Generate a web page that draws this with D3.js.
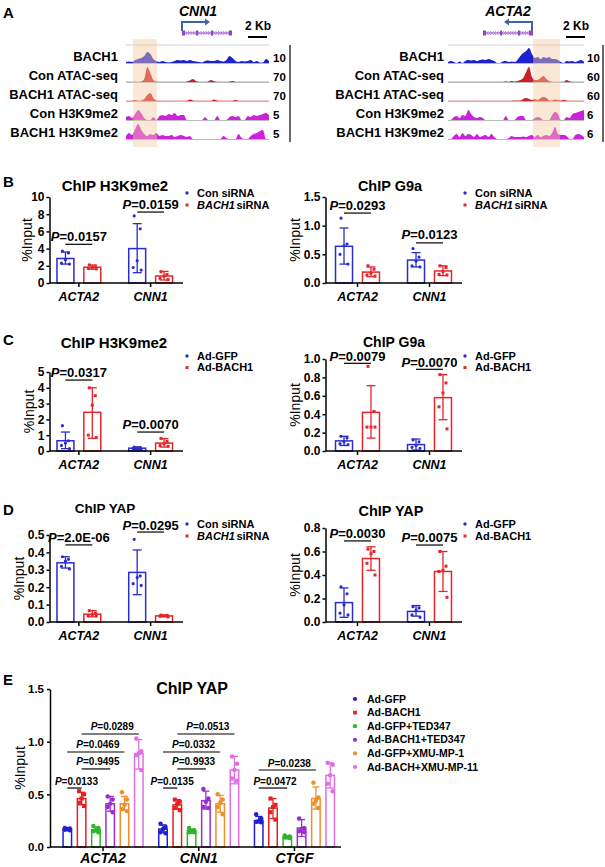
<!DOCTYPE html>
<html lang="en">
  <head>
    <meta charset="UTF-8" />
    <title>BACH1 ChIP figure</title>
    <script src="https://cdn.jsdelivr.net/npm/d3@7"></script>
    <style>
      body { margin: 0; background: #fff; }
      svg { display: block; }
    </style>
  </head>
  <body>
    <div id="chart"></div>
    <script>
      const FONT = "'Liberation Sans', Arial, Helvetica, sans-serif";

      // ---------- panel A: genome browser tracks ----------
      const trackNames = ["BACH1", "Con ATAC-seq", "BACH1 ATAC-seq", "Con H3K9me2", "BACH1 H3K9me2"];
      const trackColors = ["#1d22cc", "#cf1f26", "#cf1f26", "#cc22dd", "#cc22dd"];
      const cnn1Scale = [10, 70, 70, 5, 5];
      const acta2Scale = [10, 60, 60, 6, 6];

      const cnn1Bach1 = [1, 1.5, 1, 3, 4, 5, 7, 11, 9, 4, 2, 1, 2, 1, 0.5, 1,
        2, 3, 2.5, 3, 2, 3, 2, 1.5, 1, 0.5, 2, 2.5, 2, 2, 3, 2,
        1.5, 3, 7, 5, 2, 1, 2, 1.5, 2, 3, 1, 2, 0.5, 0.5, 4, 2];
      const cnn1ConAtac = [0.3, 0.3, 0.3, 0.6, 0.3, 0.6, 3, 15, 9, 2, 0.5, 0.3, 0.3, 0.3, 0.3, 0.3,
        0.3, 0.3, 0.3, 0.3, 0.6, 1.5, 3, 1, 0.3, 0.3, 0.3, 0.6, 2, 0.8, 0.3, 0.3,
        0.3, 0.3, 0.6, 1, 0.3, 0.3, 0.3, 0.3, 0.3, 0.3, 0.3, 0.3, 0.3, 0.3, 0.3, 0.3];
      const cnn1BachAtac = [0.3, 0.3, 0.3, 1, 0.3, 0.5, 2, 6, 8, 3, 0.5, 0.3, 0.3, 0.3, 0.3, 0.3,
        0.3, 0.3, 0.3, 0.3, 0.3, 1.5, 0.6, 0.3, 0.3, 0.3, 0.3, 0.3, 0.3, 1.5, 0.5, 0.3,
        0.3, 0.3, 0.3, 0.3, 1, 0.3, 0.3, 0.3, 0.3, 0.3, 0.3, 0.3, 0.3, 0.3, 0.3, 0.3];
      const cnn1ConK9 = [3, 4, 2, 6, 10, 7, 2, 0, 0, 3, 0, 4, 5, 4, 6, 5,
        7, 4, 5, 5, 0, 0, 0, 0, 0, 0, 3, 0, 0, 0, 4, 0,
        0, 0, 3, 4, 3, 4, 0, 0, 4, 3, 5, 4, 5, 6, 7, 5];
      const cnn1BachK9 = [3, 6, 4, 10, 15, 9, 5, 3, 5, 4, 6, 3, 4, 3, 3, 4,
        2, 3, 4, 3, 2, 3, 0, 0, 0, 0, 0, 0, 0, 0, 0, 0,
        3, 1, 0, 0, 0, 5, 1, 0, 0, 3, 5, 6, 8, 9, 0, 0];

      const acta2Bach1 = [1, 2, 1, 0, 1.5, 0, 2, 3, 2.5, 3, 2, 3, 3.5, 3, 4, 3,
        2, 0, 0, 1.5, 2, 1, 1.5, 1, 3, 7, 10, 12, 15, 9, 5, 6,
        4, 6, 5, 6, 4, 4, 3, 1, 0, 2, 1.5, 2, 1, 2, 3, 1];
      const acta2ConAtac = [0.3, 0.3, 0.3, 0.3, 0.3, 0.3, 0.3, 0.3, 0.3, 0.3, 0.3, 0.3, 0.3, 0.3, 0.3, 0.3,
        0.3, 0.3, 0.3, 0.3, 0.8, 0.3, 1, 0.5, 1, 2, 4, 10, 15, 5, 2, 2,
        4, 6, 3, 1, 0.3, 0.3, 0.3, 0.3, 0.3, 2, 0.8, 0.3, 0.3, 0.3, 0.3, 0.3];
      const acta2BachAtac = [0.3, 0.3, 0.3, 0.3, 0.3, 0.3, 0.3, 0.3, 0.3, 0.3, 0.3, 0.3, 0.3, 0.3, 0.3, 0.3,
        0.3, 0.3, 0.3, 0.3, 0.3, 0.3, 0.3, 0.5, 0.5, 0.5, 2, 3, 2, 1, 2, 1,
        3, 4, 3, 0.6, 0.6, 1.5, 1, 0.5, 1, 0.6, 0.3, 0.3, 0.3, 0.3, 0.3, 0.3];
      const acta2ConK9 = [0, 0, 3, 4, 2, 5, 4, 10, 6, 3, 2, 3, 2, 0, 0, 0,
        0, 0, 0, 0, 4, 0, 0, 0, 3, 4, 4, 0, 0, 0, 2, 3,
        2, 0, 0, 0, 5, 8, 6, 0, 0, 3, 2, 6, 7, 8, 9, 10];
      const acta2BachK9 = [0, 0, 3, 5, 2, 6, 3, 5, 4, 2, 5, 2, 3, 4, 2, 5,
        2, 0, 0, 0, 0, 1, 3, 2, 2, 2, 2.5, 2, 3, 4, 2, 4,
        2, 3, 4, 3, 6, 12, 5, 4, 4, 3, 0, 0, 4, 5, 4, 2];

      // ---------- panels B-D ----------
      const genes = ["ACTA2", "CNN1"];
      const sirnaGroups = ["Con siRNA", "BACH1 siRNA"];
      const adGroups = ["Ad-GFP", "Ad-BACH1"];

      // B: ChIP H3K9me2, siRNA
      const bH3Mean = [[2.85, 4.0], [1.83, 0.81]];
      const bH3Err = [[[2.2, 3.6], [1.2, 6.9]], [[1.6, 2.1], [0.35, 1.35]]];
      const bH3Pts = [[[3.7, 3.5, 2.7, 2.3, 2.2], [7.8, 6.3, 2.6, 1.8, 1.5]],
        [[2.1, 1.9, 1.8, 1.7, 1.65], [1.3, 1.0, 0.8, 0.55, 0.4]]];
      const bH3P = ["0.0157", "0.0159"];
      const bH3PLevel = [4.5, 8.25];

      // B: ChIP G9a, siRNA
      const bG9Mean = [[0.64, 0.40], [0.19, 0.21]];
      const bG9Err = [[[0.33, 0.96], [0.28, 0.53]], [[0.11, 0.28], [0.13, 0.3]]];
      const bG9Pts = [[[1.13, 0.68, 0.65, 0.5, 0.33], [0.6, 0.45, 0.38, 0.3, 0.28]],
        [[0.3, 0.24, 0.17, 0.14, 0.12], [0.3, 0.27, 0.2, 0.15, 0.14]]];
      const bG9P = ["0.0293", "0.0123"];
      const bG9PLevel = [1.22, 0.7];

      // C: ChIP H3K9me2, adenovirus
      const cH3Mean = [[0.65, 0.18], [2.45, 0.5]];
      const cH3Err = [[[0.15, 1.2], [0.1, 0.26]], [[0.8, 4.0], [0.25, 0.78]]];
      const cH3Pts = [[[1.6, 0.65, 0.5, 0.35, 0.15], [0.25, 0.2, 0.18, 0.15, 0.12]],
        [[4.0, 3.5, 2.9, 1.0, 0.85], [0.8, 0.6, 0.45, 0.35, 0.3]]];
      const cH3P = ["0.0317", "0.0070"];
      const cH3PLevel = [4.49, 1.2];

      // C: ChIP G9a, adenovirus
      const cG9Mean = [[0.11, 0.07], [0.42, 0.58]];
      const cG9Err = [[[0.06, 0.16], [0.01, 0.13]], [[0.14, 0.71], [0.34, 0.83]]];
      const cG9Pts = [[[0.16, 0.14, 0.1, 0.08, 0.07], [0.12, 0.1, 0.06, 0.04, 0.03]],
        [[0.92, 0.43, 0.26, 0.26, 0.26], [0.83, 0.74, 0.63, 0.48, 0.24]]];
      const cG9P = ["0.0079", "0.0070"];
      const cG9PLevel = [0.953, 0.888];

      // D: ChIP YAP, siRNA
      const dSiMean = [[0.34, 0.285], [0.045, 0.035]];
      const dSiErr = [[[0.31, 0.375], [0.157, 0.414]], [[0.03, 0.065], [0.03, 0.04]]];
      const dSiPts = [[[0.375, 0.36, 0.35, 0.32, 0.305], [0.475, 0.265, 0.255, 0.22, 0.21]],
        [[0.065, 0.05, 0.04, 0.035, 0.035], [0.04, 0.038, 0.035, 0.033, 0.03]]];
      const dSiP = ["2.0E-06", "0.0295"];
      const dSiPLevel = [0.443, 0.517];

      // D: ChIP YAP, adenovirus
      const dAdMean = [[0.165, 0.09], [0.54, 0.43]];
      const dAdErr = [[[0.04, 0.29], [0.05, 0.14]], [[0.44, 0.64], [0.26, 0.6]]];
      const dAdPts = [[[0.3, 0.24, 0.145, 0.075, 0.06], [0.13, 0.12, 0.1, 0.06, 0.04]],
        [[0.62, 0.6, 0.58, 0.5, 0.4], [0.6, 0.475, 0.44, 0.43, 0.21]]];
      const dAdP = ["0.0030", "0.0075"];
      const dAdPLevel = [0.69, 0.655];

      // ---------- panel E ----------
      const eGenes = ["ACTA2", "CNN1", "CTGF"];
      const eGroups = ["Ad-GFP", "Ad-BACH1", "Ad-GFP+TED347", "Ad-BACH1+TED347", "Ad-GFP+XMU-MP-1", "Ad-BACH+XMU-MP-11"];
      const eMean = [[0.17, 0.17, 0.25], [0.46, 0.40, 0.37], [0.165, 0.155, 0.095],
        [0.41, 0.44, 0.18], [0.41, 0.41, 0.46], [0.885, 0.73, 0.68]];
      const eErr = [
        [[0.155, 0.18], [0.14, 0.21], [0.23, 0.29]],
        [[0.4, 0.52], [0.36, 0.45], [0.27, 0.46]],
        [[0.15, 0.19], [0.13, 0.17], [0.085, 0.105]],
        [[0.34, 0.48], [0.36, 0.53], [0.1, 0.26]],
        [[0.35, 0.48], [0.33, 0.49], [0.36, 0.57]],
        [[0.74, 1.02], [0.6, 0.86], [0.56, 0.8]]];
      const ePts = [
        [[0.18, 0.175, 0.17, 0.165, 0.16], [0.22, 0.19, 0.17, 0.14, 0.13], [0.31, 0.27, 0.245, 0.24, 0.235]],
        [[0.53, 0.5, 0.46, 0.42, 0.39], [0.45, 0.43, 0.41, 0.37, 0.35], [0.46, 0.4, 0.38, 0.33, 0.26]],
        [[0.2, 0.18, 0.16, 0.15, 0.14], [0.18, 0.16, 0.15, 0.14, 0.14], [0.11, 0.1, 0.09, 0.09, 0.085]],
        [[0.48, 0.45, 0.41, 0.38, 0.33], [0.55, 0.46, 0.43, 0.38, 0.37], [0.27, 0.18, 0.17, 0.15, 0.14]],
        [[0.52, 0.45, 0.4, 0.36, 0.34], [0.5, 0.45, 0.42, 0.38, 0.31], [0.61, 0.47, 0.44, 0.41, 0.37]],
        [[1.03, 0.91, 0.89, 0.87, 0.73], [0.86, 0.79, 0.73, 0.65, 0.63], [0.8, 0.78, 0.68, 0.6, 0.53]]];
      // gene, series a, series b, P value, line level (%Input)
      const eSig = [
        ["ACTA2", 1, 5, "0.0289", 1.073], ["ACTA2", 0, 4, "0.0469", 0.902],
        ["ACTA2", 1, 3, "0.9495", 0.741], ["ACTA2", 0, 1, "0.0133", 0.56],
        ["CNN1", 1, 5, "0.0513", 1.073], ["CNN1", 0, 4, "0.0332", 0.902],
        ["CNN1", 1, 3, "0.9933", 0.741], ["CNN1", 0, 1, "0.0135", 0.56],
        ["CTGF", 0, 4, "0.0238", 0.731], ["CTGF", 0, 2, "0.0472", 0.56]];

      const pairColors = ["#2a2ccf", "#e4262c"];
      const pairShapes = ["circle", "square"];
      const eColors = ["#2020d0", "#e52020", "#2bb52b", "#9a2fd0", "#f08f2a", "#e36ee3"];
      const eShapes = ["circle", "square", "circle", "circle", "circle", "circle"];

      const svg = d3.select("#chart").append("svg")
        .attr("width", 605).attr("height", 867)
        .attr("font-family", FONT);
      svg.append("rect").attr("width", 605).attr("height", 867).attr("fill", "#fff");

      const sym = (shape, size) =>
        d3.symbol(shape === "square" ? d3.symbolSquare : d3.symbolCircle, size)();

      // ----- A -----
      function tracks(o) {
        const x = d3.scaleLinear().domain([0, o.tracks[0].length - 1]).range(o.xRange);
        const base = d3.scalePoint().domain(trackNames).range([63, 139]);
        const g = svg.append("g");
        g.append("line").attr("x1", o.xRange[0]).attr("x2", o.xRange[1])
          .attr("y1", 45).attr("y2", 45).attr("stroke", "#cfcfcf");
        o.tracks.forEach((vals, i) => {
          const b = base(trackNames[i]);
          const h = d3.scaleLinear().domain([0, 16]).range([b, b - 16]);
          g.append("line").attr("x1", o.xRange[0]).attr("x2", o.xRange[1])
            .attr("y1", b + 0.5).attr("y2", b + 0.5).attr("stroke", "#b8b8b8");
          g.append("path").datum(vals).attr("fill", trackColors[i])
            .attr("d", d3.area().x((d, j) => x(j)).y0(b).y1(h).curve(d3.curveMonotoneX));
          g.append("text").attr("x", o.labelX).attr("y", b - 2)
            .attr("text-anchor", "end").attr("font-size", 13).attr("font-weight", "bold")
            .text(trackNames[i]);
          g.append("text").attr("x", o.numX).attr("y", b - 1)
            .attr("font-size", 11.5).attr("font-weight", "bold").text(o.scale[i]);
        });
        g.append("rect").attr("x", x(o.hl[0])).attr("width", x(o.hl[1]) - x(o.hl[0]))
          .attr("y", 39).attr("height", 108).attr("fill", "#f5c9a2").attr("opacity", 0.45);
        g.append("line").attr("x1", o.barX).attr("x2", o.barX).attr("y1", 45).attr("y2", 142)
          .attr("stroke", "#000").attr("stroke-width", 1.2);
      }

      function geneModel(o) {
        const g = svg.append("g");
        g.append("text").attr("x", o.nameX).attr("y", 16).attr("text-anchor", "middle")
          .attr("font-size", 14).attr("font-weight", "bold").attr("font-style", "italic").text(o.name);
        const end = o.tss + o.dir * 23;
        g.append("path").attr("d", `M${o.tss},31V22H${end}`).attr("fill", "none")
          .attr("stroke", "#3d63a6").attr("stroke-width", 2);
        g.append("path").attr("d", `M${end + o.dir * 5},22L${end},18.5L${end},25.5Z`).attr("fill", "#3d63a6");
        g.append("line").attr("x1", o.x0).attr("x2", o.x1).attr("y1", 33).attr("y2", 33)
          .attr("stroke", "#8d45c9").attr("stroke-width", 1.2);
        d3.range(o.x0 + 2, o.x1 - 1, 2.5).forEach((xx) => {
          g.append("path").attr("d", `M${xx - o.dir},31L${xx + o.dir * 0.6},33L${xx - o.dir},35`)
            .attr("fill", "none").attr("stroke", "#a46ad8").attr("stroke-width", 0.8);
        });
        o.exons.forEach((e) => {
          g.append("rect").attr("x", e[0]).attr("width", e[1] - e[0]).attr("y", 30.5).attr("height", 5)
            .attr("fill", "#8d45c9");
        });
        g.append("text").attr("x", o.kbX).attr("y", 30).attr("text-anchor", "middle")
          .attr("font-size", 12).attr("font-weight", "bold").text("2 Kb");
        g.append("line").attr("x1", o.kbX - 10).attr("x2", o.kbX + 9).attr("y1", 37).attr("y2", 37)
          .attr("stroke", "#000").attr("stroke-width", 2);
      }

      geneModel({ name: "CNN1", nameX: 198, tss: 182, dir: 1, x0: 182, x1: 232,
        exons: [[182, 185], [196, 198], [211, 213], [229, 232]], kbX: 258 });
      geneModel({ name: "ACTA2", nameX: 508, tss: 532, dir: -1, x0: 483, x1: 533,
        exons: [[483, 486], [500, 502], [518, 520], [529, 533]], kbX: 576 });

      tracks({ tracks: [cnn1Bach1, cnn1ConAtac, cnn1BachAtac, cnn1ConK9, cnn1BachK9],
        scale: cnn1Scale, xRange: [126, 269], labelX: 118, numX: 273, barX: 290, hl: [2.3, 10.2] });
      tracks({ tracks: [acta2Bach1, acta2ConAtac, acta2BachAtac, acta2ConK9, acta2BachK9],
        scale: acta2Scale, xRange: [448, 584], labelX: 444, numX: 587, barX: 603, hl: [29.4, 38.7] });

      // ----- bar charts -----
      function barChart(o) {
        const x = d3.scaleBand().domain(o.genes).range(o.xRange);
        const xi = d3.scaleBand().domain(d3.range(o.series.length)).range([0, x.bandwidth()])
          .paddingInner(o.padIn).paddingOuter(o.padOut);
        const y = d3.scaleLinear().domain([0, o.yMax]).range(o.yRange);
        const cx = (gene, s) => x(gene) + xi(s) + xi.bandwidth() / 2;
        const g = svg.append("g");

        const rows = o.series.flatMap((s, si) => o.genes.map((gene, gi) => ({
          gene, si, mean: o.mean[si][gi], err: o.err[si][gi], pts: o.pts[si][gi],
        })));

        g.selectAll(".bar").data(rows).join("rect")
          .attr("x", (d) => x(d.gene) + xi(d.si)).attr("width", xi.bandwidth())
          .attr("y", (d) => y(d.mean)).attr("height", (d) => y(0) - y(d.mean))
          .attr("fill", "#fff").attr("stroke", (d) => o.colors[d.si]).attr("stroke-width", 1.5);

        const eg = g.selectAll(".err").data(rows).join("g")
          .attr("stroke", (d) => o.colors[d.si]).attr("stroke-width", 1.3);
        eg.append("line").attr("x1", (d) => cx(d.gene, d.si)).attr("x2", (d) => cx(d.gene, d.si))
          .attr("y1", (d) => y(d.err[0])).attr("y2", (d) => y(d.err[1]));
        [0, 1].forEach((k) => {
          eg.append("line").attr("x1", (d) => cx(d.gene, d.si) - o.cap).attr("x2", (d) => cx(d.gene, d.si) + o.cap)
            .attr("y1", (d) => y(d.err[k])).attr("y2", (d) => y(d.err[k]));
        });

        const pts = rows.flatMap((d) => d.pts.map((v, k) => ({ ...d, v, k })));
        g.selectAll(".pt").data(pts).join("path")
          .attr("d", (d) => sym(o.shapes[d.si], o.shapes[d.si] === "square" ? o.sqSize : o.dotSize))
          .attr("transform", (d) => `translate(${cx(d.gene, d.si) + o.jitter[d.k]},${y(d.v)})`)
          .attr("fill", (d) => o.colors[d.si]);

        // axes
        const ya = g.append("g").attr("transform", `translate(${o.axisX},0)`)
          .call(d3.axisLeft(y).tickValues(o.ticks).tickFormat(o.fmt).tickSize(3).tickPadding(o.tickPad).tickSizeOuter(0));
        ya.attr("font-family", FONT).attr("font-size", o.tickFont).attr("font-weight", "bold");
        ya.selectAll("path, line").attr("stroke-width", 1.5);

        g.append("line").attr("x1", o.axisX).attr("x2", o.axisEnd).attr("y1", y(0)).attr("y2", y(0))
          .attr("stroke", "#000").attr("stroke-width", 1.5);
        g.selectAll(".xt").data(o.genes).join("line")
          .attr("x1", (d) => x(d) + x.bandwidth() / 2).attr("x2", (d) => x(d) + x.bandwidth() / 2)
          .attr("y1", y(0)).attr("y2", y(0) + 4).attr("stroke", "#000").attr("stroke-width", 1.5);
        g.selectAll(".xl").data(o.genes).join("text")
          .attr("x", (d) => x(d) + x.bandwidth() / 2).attr("y", y(0) + o.xLabDy)
          .attr("text-anchor", "middle").attr("font-size", o.xFont)
          .attr("font-weight", "bold").attr("font-style", "italic").text((d) => d);

        // significance
        o.sig.forEach(([gene, a, b, p, lvl]) => {
          const x1 = cx(gene, a), x2 = cx(gene, b);
          g.append("line").attr("x1", x1).attr("x2", x2).attr("y1", y(lvl)).attr("y2", y(lvl))
            .attr("stroke", "#000").attr("stroke-width", 1.2);
          const t = g.append("text").attr("x", (x1 + x2) / 2 + o.pShift).attr("y", y(lvl) - o.pGap)
            .attr("text-anchor", "middle").attr("font-size", o.pFont).attr("font-weight", "bold");
          t.append("tspan").attr("font-style", "italic").text("P");
          t.append("tspan").text("=" + p);
        });

        // title, y label
        svg.append("text").attr("x", o.titleX).attr("y", o.titleY).attr("text-anchor", "middle")
          .attr("font-size", o.titleFont).attr("font-weight", "bold").text(o.title);
        svg.append("text").attr("transform", `translate(${o.yLabX},${(o.yRange[0] + o.yRange[1]) / 2}) rotate(-90)`)
          .attr("text-anchor", "middle").attr("dy", "0.35em").attr("font-size", 14).text("%Input");

        // legend
        const lg = svg.append("g").attr("font-size", o.legFont).attr("font-weight", "bold");
        o.series.forEach((name, i) => {
          const yy = o.legY + i * o.legDy;
          lg.append("path").attr("d", sym(o.shapes[i], o.legSym)).attr("fill", o.colors[i])
            .attr("transform", `translate(${o.legX},${yy})`);
          const t = lg.append("text").attr("x", o.legX + o.legGap).attr("y", yy).attr("dy", "0.35em");
          if (name === "BACH1 siRNA") {
            t.append("tspan").attr("font-style", "italic").text("BACH1");
            t.append("tspan").attr("dx", 1.5).text("siRNA");
          } else {
            t.text(name);
          }
        });
      }

      const pairCommon = {
        genes, colors: pairColors, shapes: pairShapes, padIn: 0.37, padOut: 0.52,
        cap: 4.5, jitter: [-3, 3, 0, -4, 4], dotSize: 8, sqSize: 9, tickFont: 12, tickPad: 2,
        xFont: 12.5, xLabDy: 17.7, pFont: 13, pGap: 3.5, pShift: 0, titleFont: 14.5,
        legFont: 11, legSym: 9, legGap: 10, legDy: 12,
      };
      const LEFT = { xRange: [43, 186.5], axisX: 49.5, axisEnd: 183, legX: 187 };
      const RIGHT = { xRange: [321.5, 465.5], axisX: 325.5, axisEnd: 462, legX: 465 };
      const sigOf = (pv, lv) => genes.map((gn, i) => [gn, 0, 1, pv[i], lv[i]]);

      barChart({ ...pairCommon, ...LEFT, series: sirnaGroups, mean: bH3Mean, err: bH3Err, pts: bH3Pts,
        sig: sigOf(bH3P, bH3PLevel), yRange: [283, 197], yMax: 10, ticks: [0, 2, 4, 6, 8, 10],
        fmt: d3.format("d"), title: "ChIP H3K9me2", titleX: 115, titleY: 191, titleFont: 15,
        yLabX: 27, legY: 193 });
      barChart({ ...pairCommon, ...RIGHT, series: sirnaGroups, mean: bG9Mean, err: bG9Err, pts: bG9Pts,
        sig: sigOf(bG9P, bG9PLevel), yRange: [283, 197], yMax: 1.5, ticks: [0, 0.5, 1, 1.5],
        fmt: d3.format(".1f"), title: "ChIP G9a", titleX: 390, titleY: 191,
        yLabX: 295, legY: 193 });

      barChart({ ...pairCommon, ...LEFT, series: adGroups, mean: cH3Mean, err: cH3Err, pts: cH3Pts,
        sig: sigOf(cH3P, cH3PLevel), yRange: [451, 372], yMax: 5, ticks: [0, 1, 2, 3, 4, 5],
        fmt: d3.format("d"), title: "ChIP H3K9me2", titleX: 114, titleY: 348, titleFont: 15,
        yLabX: 29, legY: 356, legDy: 11.6 });
      barChart({ ...pairCommon, ...RIGHT, series: adGroups, mean: cG9Mean, err: cG9Err, pts: cG9Pts,
        sig: sigOf(cG9P, cG9PLevel), yRange: [451, 359], yMax: 1.0, ticks: [0, 0.2, 0.4, 0.6, 0.8, 1.0],
        fmt: d3.format(".1f"), title: "ChIP G9a", titleX: 394, titleY: 346.5, titleFont: 14, pGap: 2,
        yLabX: 295, legY: 356, legDy: 11.6 });

      barChart({ ...pairCommon, ...LEFT, series: sirnaGroups, mean: dSiMean, err: dSiErr, pts: dSiPts,
        sig: sigOf(dSiP, dSiPLevel), yRange: [622, 535], yMax: 0.5, ticks: [0, 0.1, 0.2, 0.3, 0.4, 0.5],
        fmt: d3.format(".1f"), title: "ChIP YAP", titleX: 105, titleY: 512.5, titleFont: 13.5, pGap: 2.5,
        yLabX: 19, legY: 524 });
      barChart({ ...pairCommon, ...RIGHT, series: adGroups, mean: dAdMean, err: dAdErr, pts: dAdPts,
        sig: sigOf(dAdP, dAdPLevel), yRange: [622, 528], yMax: 0.8, ticks: [0, 0.2, 0.4, 0.6, 0.8],
        fmt: d3.format(".1f"), title: "ChIP YAP", titleX: 391, titleY: 516, pGap: 2.7,
        yLabX: 295, legY: 524 });

      barChart({ genes: eGenes, series: eGroups, colors: eColors, shapes: eShapes,
        mean: eMean, err: eErr, pts: ePts, sig: eSig,
        xRange: [55.2, 342.3], axisX: 50, axisEnd: 341, padIn: 0.406, padOut: 0.55,
        yRange: [847, 689], yMax: 1.5, ticks: [0, 0.5, 1, 1.5], fmt: d3.format(".1f"),
        cap: 3.5, jitter: [-2.5, 2.5, 0, -2.5, 2.5], dotSize: 16, sqSize: 17, tickFont: 11.5, tickPad: 3,
        xFont: 14, xLabDy: 15.5, pFont: 10, pGap: 3.5, pShift: 2,
        title: "ChIP YAP", titleX: 192, titleY: 694, titleFont: 16, yLabX: 20,
        legX: 355, legGap: 12, legY: 699, legDy: 13.6, legFont: 10.5, legSym: 14 });

      // panel letters
      [["A", 18], ["B", 187], ["C", 345], ["D", 515], ["E", 685]].forEach(([l, yy]) => {
        svg.append("text").attr("x", 3).attr("y", yy).attr("font-size", 15)
          .attr("font-weight", "bold").text(l);
      });
    </script>
  </body>
</html>
